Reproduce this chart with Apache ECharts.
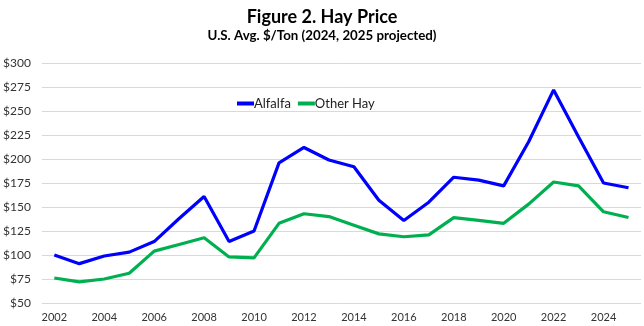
<!DOCTYPE html>
<html>
<head>
<meta charset="utf-8">
<script src="https://cdn.jsdelivr.net/npm/echarts@6/dist/echarts.min.js"></script>
<style>
  html, body { margin: 0; padding: 0; background: #fff; }
  #chart { width: 644px; height: 326px; }
</style>
</head>
<body>
<div id="chart"></div>
<script>
// U.S. average hay prices, $/ton (2024 and 2025 projected)
const years = ['2002','2003','2004','2005','2006','2007','2008','2009','2010','2011','2012','2013',
               '2014','2015','2016','2017','2018','2019','2020','2021','2022','2023','2024','2025'];
const alfalfa = [100, 91, 99, 103, 114, 138, 161, 114, 125, 196, 212, 199,
                 192, 157, 136, 155, 181, 178, 172, 218, 272, 223, 175, 170];
const otherHay = [76, 72, 75, 81, 104, 111, 118, 98, 97, 133, 143, 140,
                  131, 122, 119, 121, 139, 136, 133, 153, 176, 172, 145, 139];
const yTicks = { min: 50, max: 300, step: 25 };

const FONT = 'Lato, "Open Sans", sans-serif';
const chart = echarts.init(document.getElementById('chart'), null, { renderer: 'canvas' });

chart.setOption({
  backgroundColor: '#ffffff',
  animation: false,
  title: {
    text: 'Figure 2. Hay Price',
    subtext: 'U.S. Avg. $/Ton (2024, 2025 projected)',
    left: 'center',
    top: 3,
    itemGap: 3,
    textStyle: { fontFamily: FONT, fontSize: 18, fontWeight: 'bold', color: '#000' },
    subtextStyle: { fontFamily: FONT, fontSize: 13.3, fontWeight: 'bold', color: '#000' }
  },
  legend: {
    left: 232,
    top: 92,
    itemWidth: 17,
    itemHeight: 4,
    itemGap: 7,
    icon: 'rect',
    textStyle: { fontFamily: FONT, fontSize: 13, color: '#222', padding: [0, 0, 0, -5] },
    data: ['Alfalfa', 'Other Hay']
  },
  grid: { left: 41, right: 3, top: 63, bottom: 23, containLabel: false },
  xAxis: {
    type: 'category',
    data: years,
    boundaryGap: true,
    axisLine: { show: false },
    axisTick: { show: false },
    axisLabel: { interval: 1, fontFamily: FONT, fontSize: 11, color: '#333', margin: 9 }
  },
  yAxis: {
    type: 'value',
    min: yTicks.min,
    max: yTicks.max,
    interval: yTicks.step,
    axisLine: { show: false },
    axisTick: { show: false },
    splitLine: { lineStyle: { color: '#d9d9d9', width: 1 } },
    axisLabel: { formatter: '${value}', fontFamily: FONT, fontSize: 12, color: '#333', margin: 11 }
  },
  series: [
    {
      name: 'Alfalfa',
      type: 'line',
      data: alfalfa,
      symbol: 'none',
      lineStyle: { color: '#0000ff', width: 3.2 },
      itemStyle: { color: '#0000ff' }
    },
    {
      name: 'Other Hay',
      type: 'line',
      data: otherHay,
      symbol: 'none',
      lineStyle: { color: '#00b050', width: 3.2 },
      itemStyle: { color: '#00b050' }
    }
  ]
});
</script>
</body>
</html>
